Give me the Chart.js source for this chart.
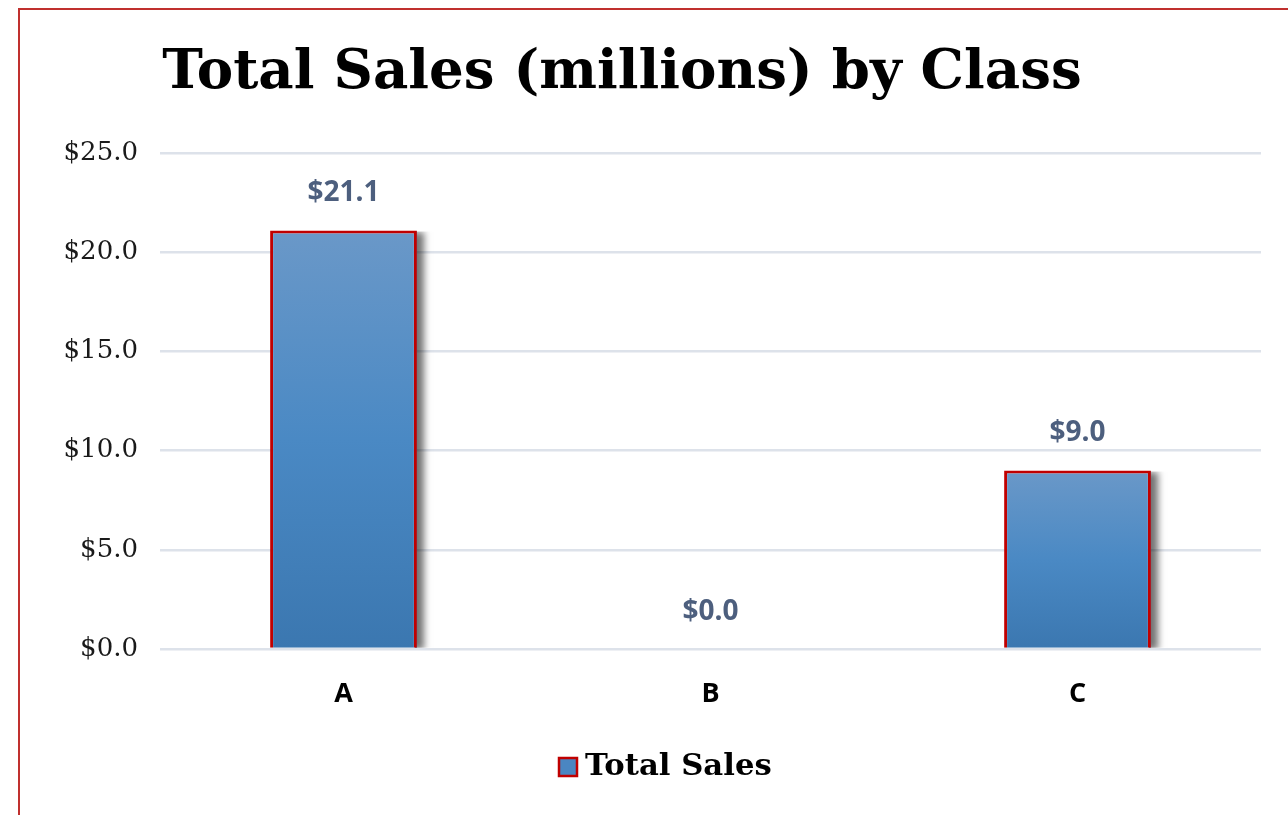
<!DOCTYPE html>
<html><head><meta charset="utf-8">
<script src="https://cdn.jsdelivr.net/npm/chart.js@4/dist/chart.umd.min.js"></script>
<style>html,body{margin:0;padding:0;background:#fff;}#wrap{width:1288px;height:815px;position:relative;}</style>
</head><body><div id="wrap"><canvas id="c" width="1288" height="815"></canvas></div>
<script>
const categories = ['A', 'B', 'C'];
const totalSales = [21.1, 0.0, 9.0];
const seriesName = 'Total Sales';
const titleText = 'Total Sales (millions) by Class';
const yTicks = [0, 5, 10, 15, 20, 25];

const serif = '"DejaVu Serif", "Liberation Serif", serif';
const sans = '"Open Sans", "Liberation Sans", sans-serif';

function fitFont(c, text, weight, family, width) {
  c.font = weight + ' 100px ' + family;
  const w = c.measureText(text).width;
  return Math.round(100 * width / w * 10) / 10;
}

const decor = {
  id: 'decor',
  beforeDraw(chart) {
    const c = chart.ctx;
    c.save();
    c.fillStyle = '#fff';
    c.fillRect(0, 0, chart.width, chart.height);
    c.strokeStyle = '#c0302e';
    c.lineWidth = 2;
    c.strokeRect(19, 9, 1400, 1000);
    c.restore();
  },
  beforeDatasetDraw(chart) {
    const c = chart.ctx;
    const meta = chart.getDatasetMeta(0);
    c.save();
    c.shadowColor = 'rgba(0,0,0,0.55)';
    c.shadowBlur = 7;
    c.shadowOffsetX = 7;
    c.shadowOffsetY = 2;
    c.fillStyle = '#4a86c2';
    meta.data.forEach((el) => {
      const h = el.base - el.y;
      if (h < 1) return;
      const left = el.x - el.width / 2;
      c.save();
      c.beginPath();
      c.rect(left + el.width - 2, el.y + 1, 30, h - 1);
      c.clip();
      c.fillRect(left, el.y, el.width, h);
      c.restore();
    });
    c.restore();
  },
  afterDraw(chart) {
    const c = chart.ctx;
    c.save();
    // title
    c.fillStyle = '#000';
    const ts = fitFont(c, titleText, 'bold', serif, 919);
    c.font = 'bold ' + ts + 'px ' + serif;
    c.textAlign = 'center';
    c.textBaseline = 'middle';
    c.fillText(titleText, 622, 74);
    // data labels
    const meta = chart.getDatasetMeta(0);
    c.font = 'bold 28px ' + sans;
    c.fillStyle = '#4d5f7e';
    meta.data.forEach((el, i) => {
      const v = totalSales[i];
      c.fillText('$' + v.toFixed(1), el.x, el.y - 37);
    });
    // legend
    c.fillStyle = '#4a86c2';
    c.fillRect(559, 758, 18, 18);
    c.strokeStyle = '#c00000';
    c.lineWidth = 2.5;
    c.strokeRect(559, 758, 18, 18);
    c.fillStyle = '#000';
    const ls = fitFont(c, seriesName, 'bold', serif, 187);
    c.font = 'bold ' + ls + 'px ' + serif;
    c.textAlign = 'left';
    c.fillText(seriesName, 585, 767);
    c.restore();
  }
};

new Chart(document.getElementById('c'), {
  type: 'bar',
  data: {
    labels: categories,
    datasets: [{
      label: seriesName,
      data: totalSales,
      backgroundColor: (ctx) => {
        const chart = ctx.chart;
        const y = chart.scales && chart.scales.y;
        if (!y || ctx.type !== 'data') return '#4a86c2';
        const top = y.getPixelForValue(ctx.raw);
        const bot = y.getPixelForValue(0);
        if (!isFinite(top) || bot - top < 1) return '#4a86c2';
        const g = chart.ctx.createLinearGradient(0, top, 0, bot);
        g.addColorStop(0, '#6a98c8');
        g.addColorStop(0.5, '#4a89c4');
        g.addColorStop(1, '#3b77b0');
        return g;
      },
      borderColor: '#c00000',
      borderWidth: (ctx) => (ctx.raw === 0 ? 0 : 3),
      borderSkipped: 'bottom',
      barPercentage: 0.4,
      categoryPercentage: 1.0
    }]
  },
  options: {
    responsive: false,
    animation: false,
    devicePixelRatio: 1,
    layout: { padding: { top: 153, right: 27, bottom: 106, left: 0 } },
    plugins: { legend: { display: false }, title: { display: false }, tooltip: { enabled: false } },
    scales: {
      x: {
        afterFit: (s) => { s.height = 60; },
        grid: { display: false, drawTicks: false },
        border: { display: false },
        ticks: { color: '#000', font: { family: sans, size: 27, weight: 'bold' }, padding: 29 }
      },
      y: {
        min: 0, max: 25,
        afterFit: (s) => { s.width = 160; },
        afterBuildTicks: (s) => { s.ticks = yTicks.map(v => ({ value: v })); },
        grid: { color: '#dde2ea', lineWidth: 2.5, drawTicks: false },
        border: { display: false },
        ticks: {
          color: '#1a1a1a',
          font: { family: serif, size: 26 },
          padding: 22,
          callback: (v) => '$' + Number(v).toFixed(1)
        }
      }
    }
  },
  plugins: [decor]
});
</script></body></html>
